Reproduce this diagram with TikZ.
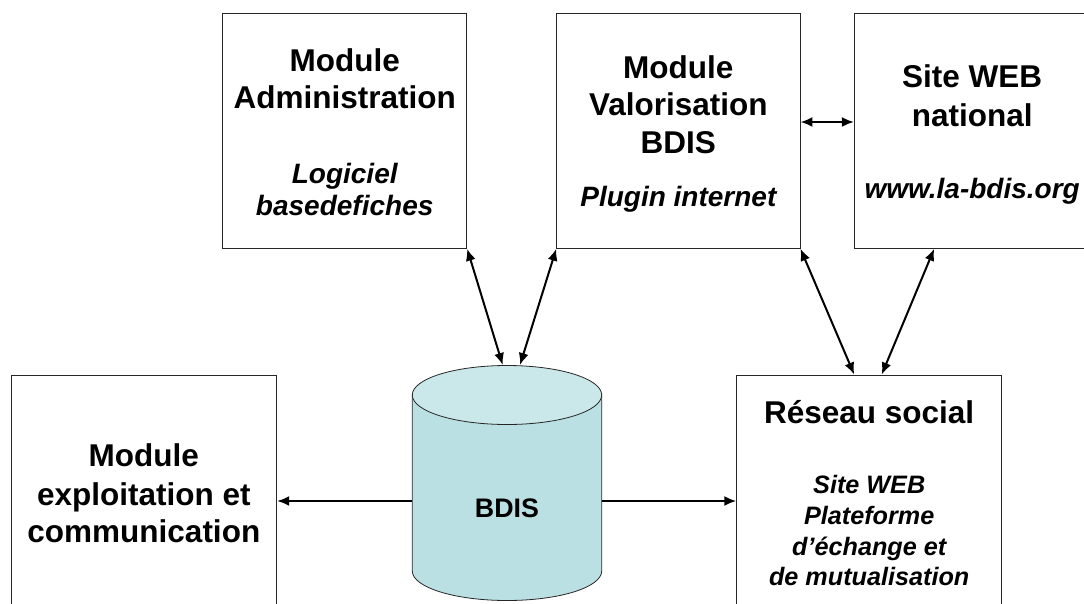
\documentclass[tikz,border=0pt]{standalone}
\usepackage{fontspec}
\setmainfont{Liberation Sans}
\usetikzlibrary{arrows.meta}
\definecolor{dbbody}{RGB}{186,224,227}
\definecolor{dbtop}{RGB}{202,231,233}
\tikzset{
  box/.style={draw=black!85, line width=0.9pt, fill=white, inner sep=0pt},
  title/.style={anchor=base, inner sep=0pt, font=\bfseries\fontsize{31.5}{36}\selectfont},
  sub/.style={anchor=base, inner sep=0pt, font=\bfseries\itshape\fontsize{28}{32}\selectfont},
  subsmall/.style={anchor=base, inner sep=0pt, font=\bfseries\itshape\fontsize{25.2}{30}\selectfont},
  tip/.tip={Latex[length=12pt,width=10pt]},
  link/.style={line width=2pt, tip-tip},
  onelink/.style={line width=2pt, -tip},
}
\begin{document}
\begin{tikzpicture}[x=1pt,y=-1pt]
\useasboundingbox (0,0) rectangle (1084,603);
\clip (0,0) rectangle (1084,603);

% boxes
\node[box, minimum width=244pt, minimum height=235pt] (adm) at (344.7,130.8) {};
\node[box, minimum width=243.3pt, minimum height=235pt] (val) at (678.35,130.8) {};
\node[box, minimum width=235.7pt, minimum height=235pt] (site) at (972.2,130.8) {};
\node[box, minimum width=265.7pt, minimum height=250pt] (exp) at (143.85,500) {};
\node[box, minimum width=265pt, minimum height=250pt] (res) at (869.2,500) {};

% cylinder
\draw[black!85, line width=0.8pt, fill=dbbody]
  (412.3,395) -- (412.3,571)
  arc[start angle=180, end angle=360, x radius=94.7pt, y radius=29.5pt]
  -- (601.7,395);
\draw[black!85, line width=0.8pt, fill=dbtop] (507,395) ellipse [x radius=94.7pt, y radius=29.5pt];
\node[anchor=base, inner sep=0pt, font=\bfseries\fontsize{26.8}{30}\selectfont] (dbl) at (507,517) {BDIS};
\coordinate (dbTL) at (502.7,365);
\coordinate (dbTR) at (520,365);
\coordinate (dbW) at (412.3,501);
\coordinate (dbE) at (601.7,501);

% texts
\node[title] (adm1) at (344.7,71.5) {Module};
\node[title] (adm2) at (344.7,108) {Administration};
\node[sub] (adm3) at (344.7,183) {Logiciel};
\node[sub] (adm4) at (344.7,215) {basedefiches};

\node[title] (val1) at (678.35,78) {Module};
\node[title] (val2) at (678.35,115) {Valorisation};
\node[title] (val3) at (678.35,153) {BDIS};
\node[sub] (val4) at (678.35,206) {Plugin internet};

\node[title] (site1) at (972.2,87) {Site WEB};
\node[title] (site2) at (972.2,126) {national};
\node[sub] (site3) at (972.2,198) {www.la-bdis.org};

\node[title] (exp1) at (143.85,466) {Module};
\node[title] (exp2) at (143.85,505) {exploitation et};
\node[title] (exp3) at (143.85,542) {communication};

\node[title] (res1) at (869.2,423) {Réseau social};
\node[subsmall] (res2) at (869.2,493) {Site WEB};
\node[subsmall] (res3) at (869.2,524) {Plateforme};
\node[subsmall] (res4) at (869.2,555) {d’échange et};
\node[subsmall] (res5) at (869.2,585) {de mutualisation};

% connectors
\draw[link] (adm.south east) -- (dbTL);
\draw[link] (val.south west) -- (dbTR);
\draw[link] ([yshift=8.8pt]val.east) -- ([yshift=8.8pt]site.west);
\draw[link] (val.south east) -- ([xshift=-15pt]res.north);
\draw[link] ([xshift=-38pt]site.south) -- ([xshift=12.5pt]res.north);
\draw[onelink] (dbW) -- (dbW -| exp.east);
\draw[onelink] (dbE) -- (dbE -| res.west);
\end{tikzpicture}
\end{document}
